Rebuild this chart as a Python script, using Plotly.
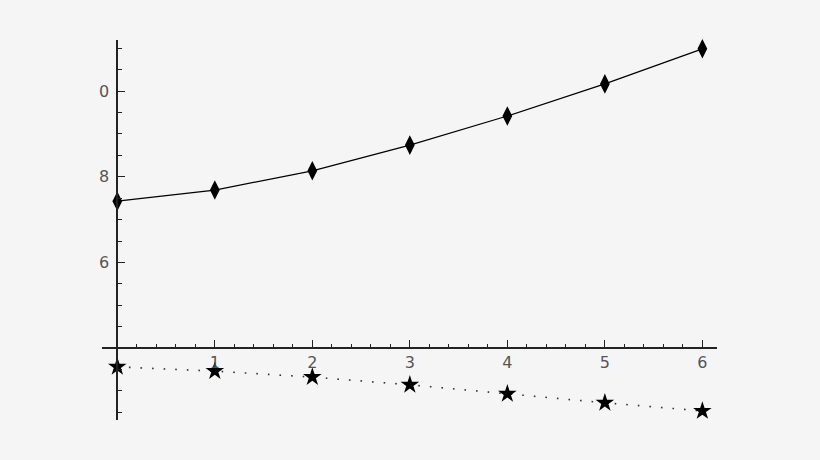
import plotly.graph_objects as go

# Data
x_vals = [0, 1, 2, 3, 4, 5, 6]
upper_vals = [7.43, 7.69, 8.14, 8.74, 9.42, 10.17, 10.99]   # diamonds, solid line
lower_vals = [3.56, 3.46, 3.32, 3.14, 2.93, 2.72, 2.53]      # stars, dotted line

x_ticks = [1, 2, 3, 4, 5, 6]
x_labels = ["1", "2", "3", "4", "5", "6"]
y_ticks = [6, 8, 10]
y_labels = ["6", "8", "0"]   # the top label shows only "0" in the picture

x_range = [-0.157, 6.15]
y_range = [2.318, 11.196]

fig = go.Figure()

fig.add_trace(go.Scatter(
    x=x_vals, y=upper_vals, mode="lines+markers",
    line=dict(color="black", width=1.2),
    marker=dict(symbol="diamond-tall", size=14, color="black"),
    cliponaxis=False,
))

fig.add_trace(go.Scatter(
    x=x_vals, y=lower_vals, mode="lines+markers",
    line=dict(color="#333333", width=1.6, dash="1.6px,10px"),
    marker=dict(symbol="star", size=14, color="black"),
    cliponaxis=False,
))

# axes cross at (0, 4) like the reference
x_pos = (4 - y_range[0]) / (y_range[1] - y_range[0])
y_pos = (0 - x_range[0]) / (x_range[1] - x_range[0])

tick_font = dict(family="DejaVu Sans", size=16, color="#555555")

fig.update_layout(
    width=820, height=460,
    margin=dict(l=102, r=103, t=40, b=40),
    paper_bgcolor="#f5f5f5",
    plot_bgcolor="#f5f5f5",
    showlegend=False,
    xaxis=dict(
        range=x_range, anchor="free", position=x_pos,
        showgrid=False, zeroline=False,
        showline=True, linecolor="#222222", linewidth=1.5,
        tickvals=x_ticks, ticktext=x_labels,
        ticks="inside", ticklen=7, tickcolor="#222222", tickwidth=1,
        tickfont=tick_font,
        minor=dict(dtick=0.2, tick0=0, ticks="inside", ticklen=3,
                   tickcolor="#222222", showgrid=False),
    ),
    yaxis=dict(
        range=y_range, anchor="free", position=y_pos,
        showgrid=False, zeroline=False,
        showline=True, linecolor="#222222", linewidth=2,
        tickvals=y_ticks, ticktext=y_labels,
        ticks="inside", ticklen=7, tickcolor="#222222", tickwidth=1,
        tickfont=tick_font, ticklabelstandoff=4,
        minor=dict(dtick=0.5, tick0=0, ticks="inside", ticklen=4,
                   tickcolor="#222222", showgrid=False),
    ),
)

# drop the page's default body margin so the figure sits at (0, 0)
fig.write_html(
    "out.html",
    config={"displayModeBar": False},
    post_script="document.body.style.margin='0';document.body.style.background='#f5f5f5';",
)
